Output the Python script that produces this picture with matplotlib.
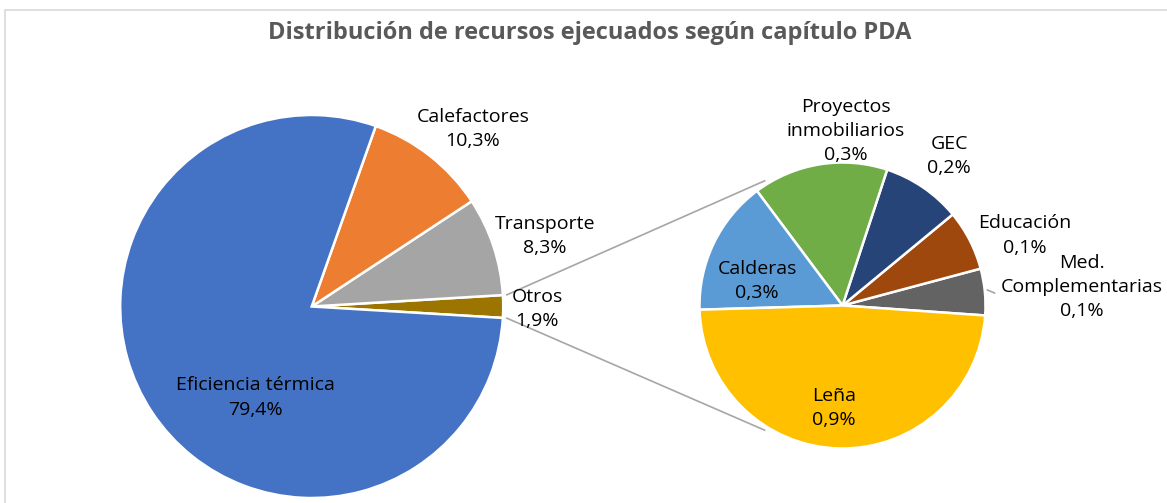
import numpy as np
import matplotlib.pyplot as plt
from matplotlib.patches import Rectangle

plt.rcParams['font.family'] = ['Open Sans', 'DejaVu Sans']

# Source data
main_labels = ["Otros", "Transporte", "Calefactores", "Eficiencia térmica"]
main_values = [1.9, 8.3, 10.3, 79.4]
main_colors = ["#9C7500", "#A5A5A5", "#ED7D31", "#4472C4"]

sub_labels = ["Med.\nComplementarias", "Educación", "GEC",
              "Proyectos\ninmobiliarios", "Calderas", "Leña"]
sub_values = [0.10, 0.13, 0.17, 0.29, 0.29, 0.92]
sub_colors = ["#636363", "#9E480E", "#264478", "#70AD47", "#5B9BD5", "#FFC000"]

title = "Distribución de recursos ejecuados según capítulo PDA"

W, H = 1167, 503
fig = plt.figure(figsize=(W / 100, H / 100), dpi=100)
ax = fig.add_axes([0, 0, 1, 1])

# pie geometry (pixels, y from bottom)
c1, r1 = (311.7, H - 306.5), 191.5
c2, r2 = (842.5, H - 305.5), 143

tot = sum(main_values)
start1 = -main_values[0] / tot * 360 / 2
wedge_kw = dict(edgecolor="white", linewidth=1.8)
ax.pie(main_values, colors=main_colors, center=c1, radius=r1,
       startangle=start1, counterclock=True, wedgeprops=wedge_kw, frame=True)
ax.pie(sub_values, colors=sub_colors, center=c2, radius=r2,
       startangle=-4, counterclock=True, wedgeprops=wedge_kw, frame=True)
ax.set_xlim(0, W)
ax.set_ylim(0, H)
ax.axis("off")

def fmt(v):
    return f"{v:.1f}".replace(".", ",") + "%"

# label placement (angle deg, distance in radii)
main_pos = [(-0.6, 1.177), (16.8, 1.273), (47.7, 1.252), (-121.9, 0.56)]
sub_pos = [(4.4, 1.68), (21.0, 1.367), (54.5, 1.284),
           (88.9, 1.22), (164.0, 0.62), (-94.7, 0.72)]

fs = 14
for lab, v, (a, d) in zip(main_labels, main_values, main_pos):
    x = c1[0] + d * r1 * np.cos(np.radians(a))
    y = c1[1] + d * r1 * np.sin(np.radians(a))
    ax.text(x, y, f"{lab}\n{fmt(v)}", ha="center", va="center",
            fontsize=fs, color="black", linespacing=1.45)
for lab, v, (a, d) in zip(sub_labels, sub_values, sub_pos):
    x = c2[0] + d * r2 * np.cos(np.radians(a))
    y = c2[1] + d * r2 * np.sin(np.radians(a))
    ax.text(x, y, f"{lab}\n{fmt(v)}", ha="center", va="center",
            fontsize=fs, color="black", linespacing=1.45)

# connector lines between the two pies
half = np.radians(main_values[0] / tot * 360 / 2)
for s in (1, -1):
    x0 = c1[0] + (r1 + 4) * np.cos(s * half)
    y0 = c1[1] + (r1 + 4) * np.sin(s * half)
    a2 = np.radians(s * 122)
    x1 = c2[0] + (r2 + 4) * np.cos(a2)
    y1 = c2[1] + (r2 + 4) * np.sin(a2)
    ax.plot([x0, x1], [y0, y1], color="#A6A6A6", linewidth=1.2, zorder=0)

# small leader line for Med. Complementarias
ax.plot([c2[0] + r2 + 2, c2[0] + r2 + 9], [H - 290, H - 293],
        color="#A6A6A6", linewidth=1.2)

ax.text(W / 2 + 6, H - 33, title, ha="center", va="center", fontsize=17,
        fontweight="bold", color="#595959")

# chart border
ax.add_patch(Rectangle((4.5, -20), W + 40, H - 9.5 + 20, fill=False,
                       edgecolor="#D9D9D9", linewidth=1.2, clip_on=False))

fig.savefig("out.png", dpi=100)
